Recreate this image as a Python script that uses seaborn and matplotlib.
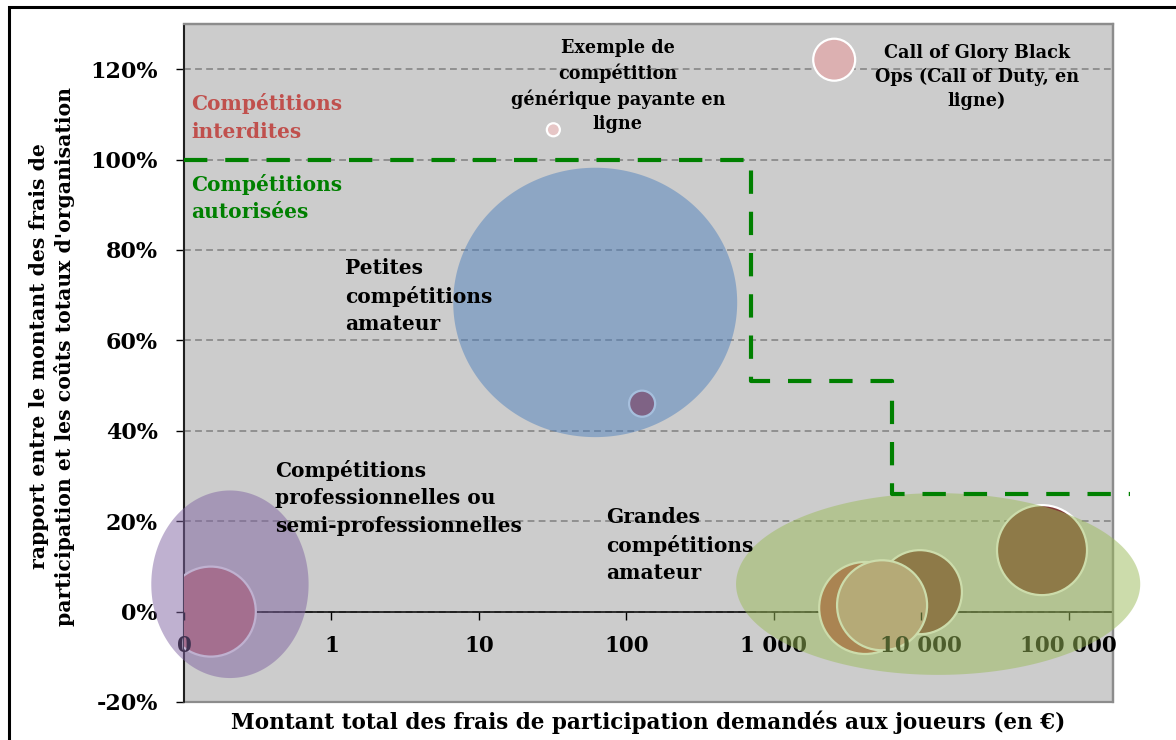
import numpy as np
import pandas as pd
import matplotlib
matplotlib.use("Agg")
import matplotlib.pyplot as plt
from matplotlib.patches import Rectangle, Polygon
from matplotlib.ticker import FixedLocator, FixedFormatter, PercentFormatter
import seaborn as sns

# bulles (frais en euros, rapport frais / coûts, poids de la bulle)
noms = ["Exemple générique", "Call of Glory", "Petite compétition", "Compétition pro",
        "Grande A", "Grande B", "Grande C", "Grande D"]
frais = [32, 2570, 128, 0.152, 4170, 9800, 66000, 5430]
ratio = [1.066, 1.221, 0.46, 0.0, 0.008, 0.043, 0.136, 0.014]
poids = [1.7, 17.6, 6.8, 81, 84.6, 70.6, 81, 81]
couleurs = ["#e6c6c6", "#dcb0b1", "#b1454d", "#ca7c7c",
            "#bb4d4b", "#813937", "#813937", "#d19997"]

# zones (ellipses) : frais min / max, rapport min / max
zones = ["Professionnelles", "Petites amateur", "Grandes amateur"]
zone_frais_min = [0.06, 6.7, 555]
zone_frais_max = [0.70, 565, 306000]
zone_ratio_min = [-0.147, 0.386, -0.140]
zone_ratio_max = [0.268, 0.982, 0.262]
zone_couleurs = ["#8064a2", "#4f81bd", "#9bbb59"]

# limite autorisée / interdite
seuil_frais = [0.1, 700, 6300, 260000]
seuil_ratio = [1.0, 0.51, 0.26, 0.26]

x_ticks = [0.1, 1, 10, 100, 1000, 10000, 100000]
x_labels = ["0", "1", "10", "100", "1 000", "10 000", "100 000"]
y_ticks = [-0.2, 0, 0.2, 0.4, 0.6, 0.8, 1.0, 1.2]

sns.set_theme(style="white")
plt.rcParams["font.family"] = ["DejaVu Serif"]
plt.rcParams["font.weight"] = "bold"
plt.rcParams["axes.unicode_minus"] = False
plt.rcParams["text.color"] = "black"

W, H = 1176, 740
fig = plt.figure(figsize=(W / 100, H / 100), dpi=100)
fig.patch.set_facecolor("white")
fig.add_artist(Rectangle((9 / W, -0.1), 1.2, 1.1 - 7.5 / H, transform=fig.transFigure,
                         fill=False, edgecolor="black", lw=2.2))

ax = fig.add_axes([184 / W, 1 - 702 / H, 929 / W, 678 / H])
ax.set_facecolor("#cccccc")
ax.set_xscale("log")
ax.set_xlim(0.1, 2e5)
ax.set_ylim(-0.2, 1.3)

df = pd.DataFrame({"nom": noms, "frais": frais, "ratio": ratio, "poids": poids})
smax = (92 * 0.72) ** 2 * 81 / 84.6
sns.scatterplot(data=df, x="frais", y="ratio", hue="nom", palette=dict(zip(noms, couleurs)),
                size="poids", sizes=(smax * min(poids) / 81, smax * max(poids) / 81),
                size_norm=(min(poids), max(poids)), edgecolor="white", linewidth=1.6,
                legend=False, zorder=3, ax=ax)
# les bulles restent dans la zone de tracé
cadre = Polygon([[0, 0], [1, 0], [1, 1], [0, 1]], closed=True, transform=ax.transAxes)
ax.collections[-1].set_clip_path(cadre)
ax.set_xlabel("")
ax.set_ylabel("")

t = np.linspace(0, 2 * np.pi, 300)
for lo, hi, bas, haut, c in zip(zone_frais_min, zone_frais_max, zone_ratio_min, zone_ratio_max, zone_couleurs):
    u0, u1 = np.log10(lo), np.log10(hi)
    uc, ur = (u0 + u1) / 2, (u1 - u0) / 2
    yc, yr = (bas + haut) / 2, (haut - bas) / 2
    ax.fill(10 ** (uc + ur * np.cos(t)), yc + yr * np.sin(t), color=c, alpha=0.5, lw=0,
            zorder=4, clip_on=False)

ax.step(seuil_frais, seuil_ratio, where="post", color="#008000", lw=3.0,
        linestyle=(0, (5.6, 4.3)), zorder=5, clip_on=False)

# axes
ax.xaxis.set_major_locator(FixedLocator(x_ticks))
ax.xaxis.set_major_formatter(FixedFormatter(x_labels))
ax.xaxis.set_minor_locator(FixedLocator([]))
ax.set_yticks(y_ticks)
ax.yaxis.set_major_formatter(PercentFormatter(1.0, decimals=0))
ax.tick_params(axis="both", which="major", direction="out", length=5.8, width=1, color="black",
               labelsize=15.5, labelcolor="black")
ax.tick_params(axis="x", pad=11)
ax.tick_params(axis="y", pad=13, labelsize=16)
ax.tick_params(left=True, bottom=True)
ax.xaxis.set_zorder(3.5)
ax.yaxis.set_zorder(0.5)
ax.yaxis.grid(True, linestyle=(0, (3.5, 2.2)), color="#909090", lw=1.4)
ax.xaxis.grid(False)

ax.spines["bottom"].set_position(("data", 0))
ax.spines["bottom"].set_color("black")
ax.spines["bottom"].set_linewidth(1.1)
ax.spines["bottom"].set_zorder(2)
ax.spines["left"].set_color("black")
ax.spines["left"].set_linewidth(1.1)
for s in ["top", "right"]:
    ax.spines[s].set_color("#8c8c8c")
    ax.spines[s].set_linewidth(1.6)
ax.add_patch(Rectangle((0, 0), 1, 1, transform=ax.transAxes, fill=False,
                       edgecolor="#8c8c8c", lw=1.6, zorder=1, clip_on=False))

# textes
ax.text(-0.142, 0.51, "rapport entre le montant des frais de\nparticipation et les coûts totaux d'organisation",
        transform=ax.transAxes, rotation=90, ha="center", va="center", fontsize=14.7,
        linespacing=1.25, multialignment="center")
ax.text(0.5, -0.0295, "Montant total des frais de participation demandés aux joueurs (en €)",
        transform=ax.transAxes, ha="center", va="center", fontsize=15.5)

style = dict(transform=ax.transAxes, fontsize=14.5, linespacing=1.45, zorder=6)
ax.text(0.0075, 0.862, "Compétitions\ninterdites", color="#c0504d", ha="left", va="center", **style)
ax.text(0.0075, 0.743, "Compétitions\nautorisées", color="#008000", ha="left", va="center", **style)
ax.text(0.173, 0.599, "Petites\ncompétitions\namateur", ha="left", va="center", **style)
ax.text(0.098, 0.301, "Compétitions\nprofessionnelles ou\nsemi-professionnelles", ha="left", va="center", **style)
ax.text(0.454, 0.2316, "Grandes\ncompétitions\namateur", ha="left", va="center", **style)
petit = dict(transform=ax.transAxes, fontsize=12.7, linespacing=1.42, zorder=6, ha="center",
             va="center", multialignment="center")
ax.text(0.467, 0.9086, "Exemple de\ncompétition\ngénérique payante en\nligne", **petit)
ax.text(0.8536, 0.9218, "Call of Glory Black\nOps (Call of Duty, en\nligne)", **petit)

fig.savefig("out.png", dpi=100)
